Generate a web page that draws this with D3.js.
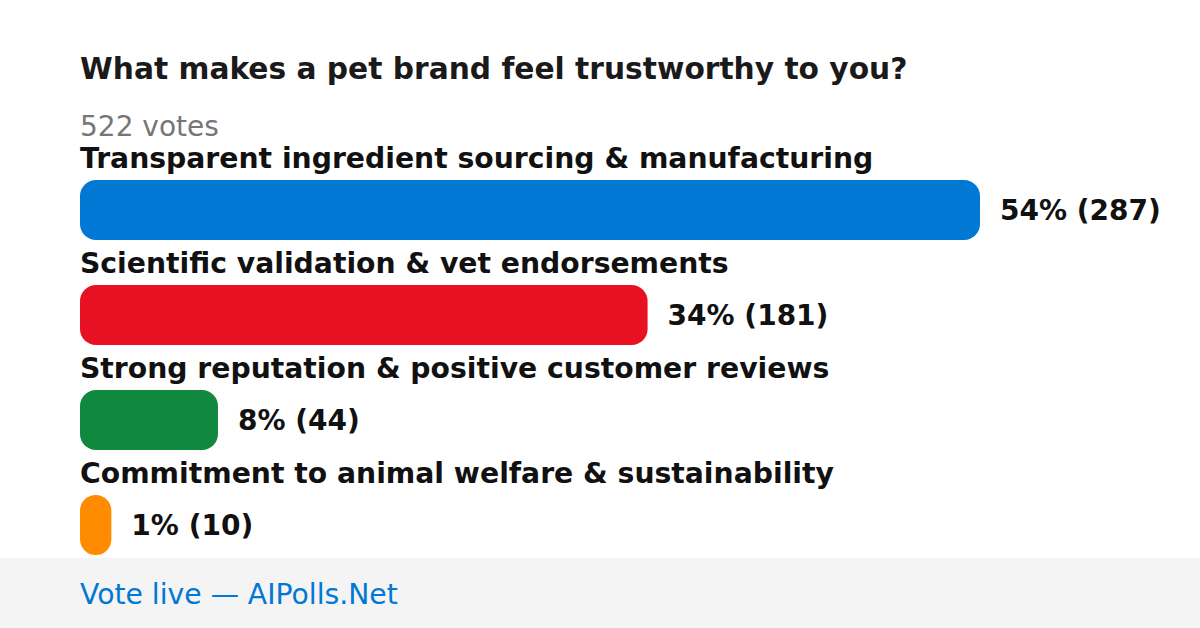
<!DOCTYPE html>
<html>
<head>
<meta charset="utf-8">
<script src="https://cdn.jsdelivr.net/npm/d3@7"></script>
<style>
html,body{margin:0;padding:0;background:#fff;}
svg{display:block;font-family:"DejaVu Sans",sans-serif;}
</style>
</head>
<body>
<svg id="chart" width="1200" height="628"></svg>
<script>
const title = "What makes a pet brand feel trustworthy to you?";
const totalVotes = 522;
const categories = [
  "Transparent ingredient sourcing & manufacturing",
  "Scientific validation & vet endorsements",
  "Strong reputation & positive customer reviews",
  "Commitment to animal welfare & sustainability"
];
const votes = [287, 181, 44, 10];
const percents = [54, 34, 8, 1];
const colors = ["#0078d4", "#e81123", "#10893e", "#ff8c00"];
const footerText = "Vote live — AIPolls.Net";

const svg = d3.select("#chart");
const W = 1200, H = 628;
svg.append("rect").attr("width", W).attr("height", H).attr("fill", "#ffffff");

svg.append("text").attr("x", 80).attr("y", 79)
  .attr("font-size", 29.7).attr("font-weight", "bold").attr("fill", "#1a1a1a")
  .text(title);

svg.append("text").attr("x", 80).attr("y", 136)
  .attr("font-size", 28).attr("fill", "#767676")
  .text(totalVotes + " votes");

const x = d3.scaleLinear().domain([0, d3.max(votes)]).range([0, 900]);
const y = d3.scaleBand().domain(d3.range(categories.length)).range([150, 570]).paddingInner(0).paddingOuter(0);

const g = svg.selectAll("g.row").data(categories).join("g").attr("class", "row")
  .attr("transform", (d, i) => `translate(80,${y(i)})`);

g.append("text").attr("x", 0).attr("y", 18)
  .attr("font-size", 28.25).attr("font-weight", "bold").attr("fill", "#111111")
  .text(d => d);

g.append("rect").attr("x", 0).attr("y", 30)
  .attr("width", (d, i) => x(votes[i])).attr("height", 60)
  .attr("rx", (d, i) => Math.min(16, x(votes[i]) / 2))
  .attr("ry", (d, i) => Math.min(16, x(votes[i]) / 2))
  .attr("fill", (d, i) => colors[i]);

g.append("text").attr("x", (d, i) => x(votes[i]) + 20).attr("y", 60)
  .attr("dy", "0.35em")
  .attr("font-size", 28).attr("font-weight", "bold").attr("fill", "#111111")
  .text((d, i) => `${percents[i]}% (${votes[i]})`);

svg.append("rect").attr("x", 0).attr("y", 558).attr("width", W).attr("height", 70).attr("fill", "#f4f4f4");
svg.append("text").attr("x", 80).attr("y", 604)
  .attr("font-size", 28.25).attr("fill", "#0078d4")
  .text(footerText);
</script>
</body>
</html>
